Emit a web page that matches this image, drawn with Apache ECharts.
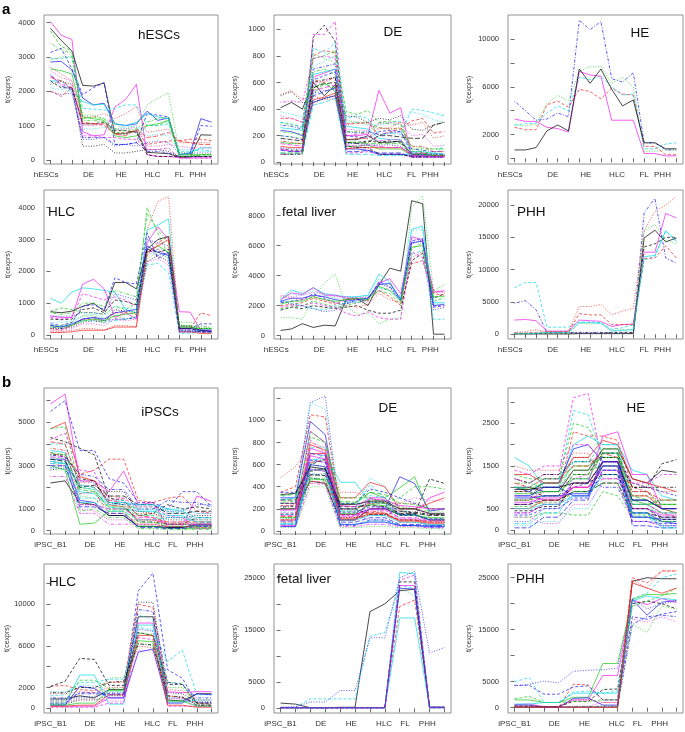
<!DOCTYPE html>
<html>
<head>
<meta charset="utf-8">
<script src="https://cdn.jsdelivr.net/npm/echarts@6/dist/echarts.min.js"></script>
<style>
  html, body { margin: 0; background: #fff; }
  #chart { width: 685px; height: 732px; }
</style>
</head>
<body>
<div id="chart"></div>
<script>
// x axis: samples per stage (a: hESC series, b: iPSC series)
const aTicks = [0, 1, 2, 3, 4, 5, 6, 7, 8, 9, 10, 11, 12, 13, 14, 15];
const aLabels = ['hESCs', 'DE', 'HE', 'HLC', 'FL', 'PHH'];
const aLabelAt = [-0.4, 3.55, 6.6, 9.5, 12, 13.7];
const bTicks = [0, 1, 2, 3, 4, 5, 6, 7, 8, 9, 10, 11];
const bLabels = ['iPSC_B1', 'DE', 'HE', 'HLC', 'FL', 'PHH'];
const bLabelAt = [0, 2.7, 4.75, 6.95, 8.35, 9.85];

// ---- a : hESCs ----
const aHescLines = [
  [4030, 3630, 3510, 820, 700, 730, 1540, 1760, 2200, 150, 100, 100, 60, 60, 60, 60],
  [3830, 3480, 3170, 2170, 2150, 2240, 760, 760, 850, 220, 200, 180, 80, 80, 730, 720],
  [2850, 2870, 2620, 1800, 1600, 1650, 1050, 1000, 1050, 1420, 1150, 1220, 150, 200, 1200, 1100],
  [3750, 3300, 3180, 1200, 1250, 1200, 800, 780, 850, 1000, 1000, 1150, 100, 100, 150, 150],
  [3130, 3250, 2650, 1900, 2100, 2250, 450, 450, 500, 1350, 1300, 1250, 150, 150, 1000, 980],
  [2300, 2300, 2000, 1700, 1600, 1620, 1050, 1000, 1100, 1350, 1250, 1200, 150, 200, 350, 350],
  [2950, 2950, 3000, 1500, 1480, 1450, 1500, 1600, 1600, 1000, 1000, 1050, 250, 250, 300, 250],
  [2000, 1850, 2100, 1050, 1050, 1000, 750, 800, 850, 450, 500, 550, 560, 600, 600, 560],
  [2500, 2150, 2050, 650, 650, 650, 450, 450, 500, 250, 250, 200, 100, 100, 100, 100],
  [2900, 3000, 3000, 1300, 1300, 1200, 1050, 900, 1000, 1600, 1800, 1950, 200, 200, 100, 100],
  [2700, 2500, 2300, 1250, 1250, 1350, 1200, 1350, 1550, 800, 850, 900, 500, 500, 500, 500],
  [2200, 2300, 2200, 400, 400, 450, 200, 200, 250, 300, 300, 250, 100, 100, 100, 100],
  [2400, 2300, 2100, 1100, 1050, 1050, 750, 700, 900, 650, 700, 800, 550, 500, 450, 450],
  [2650, 2600, 2500, 1250, 1200, 1150, 700, 650, 700, 1000, 1050, 1150, 150, 150, 150, 150],
  [2450, 2200, 2100, 700, 700, 650, 650, 600, 600, 300, 300, 350, 50, 50, 50, 50],
  [2300, 2100, 2100, 1050, 1050, 1100, 850, 850, 800, 150, 100, 100, 100, 100, 100, 100],
  [2100, 2050, 2000, 900, 900, 950, 900, 950, 1000, 700, 750, 700, 300, 300, 250, 250],
  [2600, 2400, 2300, 1000, 1000, 1050, 900, 900, 950, 400, 400, 450, 400, 350, 350, 350],
  [2000, 1900, 1950, 600, 600, 650, 400, 450, 400, 500, 550, 500, 200, 200, 200, 200],
  [3400, 3200, 3100, 1150, 1150, 1100, 900, 850, 900, 1100, 1200, 1250, 100, 100, 150, 150]
];
const aHescStyles = 'm1 k1 b1 g2 b2 c1 c2 r2 b4 g3 r3 k3 r5 g1 m2 k2 c3 m3 b3 g4'.split(' ');
const aHescTicks = [0, 1000, 2000, 3000, 4000];

// ---- a : DE ----
const aDeLines = [
  [60, 60, 70, 960, 960, 1060, 70, 70, 80, 60, 60, 60, 40, 40, 40, 40],
  [100, 90, 90, 940, 1030, 910, 150, 150, 160, 150, 160, 150, 50, 50, 50, 50],
  [410, 450, 400, 600, 500, 580, 170, 170, 200, 150, 150, 160, 60, 60, 50, 50],
  [100, 80, 80, 640, 670, 700, 200, 200, 210, 540, 370, 410, 40, 40, 40, 40],
  [330, 330, 300, 800, 840, 820, 290, 290, 300, 200, 230, 250, 310, 330, 220, 230],
  [300, 280, 270, 780, 800, 840, 380, 360, 390, 300, 310, 300, 100, 100, 100, 100],
  [300, 290, 260, 860, 820, 900, 330, 350, 330, 200, 220, 210, 400, 390, 370, 350],
  [510, 540, 470, 500, 470, 480, 280, 300, 290, 250, 260, 300, 280, 300, 180, 200],
  [240, 230, 200, 450, 480, 500, 100, 100, 90, 60, 60, 60, 50, 50, 50, 50],
  [150, 140, 140, 560, 600, 530, 120, 120, 130, 100, 100, 100, 50, 50, 50, 50],
  [260, 250, 240, 660, 680, 700, 270, 260, 250, 180, 170, 170, 80, 80, 70, 60],
  [200, 190, 170, 620, 650, 680, 200, 190, 180, 230, 240, 230, 70, 70, 60, 60],
  [120, 110, 110, 470, 490, 520, 100, 110, 110, 110, 110, 110, 60, 70, 50, 50],
  [180, 170, 160, 560, 590, 600, 150, 140, 150, 200, 200, 190, 180, 180, 280, 300],
  [380, 360, 340, 720, 760, 800, 300, 300, 280, 280, 300, 310, 380, 360, 320, 300],
  [280, 270, 250, 700, 720, 740, 230, 220, 230, 210, 220, 230, 100, 90, 80, 80],
  [200, 190, 180, 820, 780, 750, 320, 300, 300, 260, 250, 250, 120, 110, 100, 100],
  [350, 330, 300, 580, 610, 640, 250, 240, 240, 290, 300, 290, 200, 210, 120, 130],
  [500, 530, 450, 450, 480, 500, 350, 340, 300, 330, 320, 350, 250, 240, 280, 300],
  [90, 80, 80, 500, 530, 560, 80, 80, 90, 70, 70, 70, 40, 40, 40, 40],
  [70, 60, 70, 430, 450, 480, 60, 60, 60, 50, 50, 50, 70, 60, 60, 130],
  [160, 150, 140, 620, 600, 640, 170, 180, 180, 260, 250, 260, 120, 120, 80, 80],
  [230, 220, 210, 680, 700, 660, 230, 230, 220, 300, 290, 280, 80, 80, 60, 60],
  [450, 460, 450, 780, 800, 780, 200, 210, 220, 160, 170, 170, 50, 50, 50, 50],
  [60, 60, 60, 600, 620, 640, 120, 110, 110, 60, 60, 60, 40, 40, 40, 40],
  [140, 130, 120, 540, 560, 580, 130, 120, 130, 120, 110, 110, 50, 50, 40, 40],
  [70, 70, 70, 520, 590, 560, 150, 150, 140, 140, 140, 140, 60, 60, 50, 50],
  [110, 100, 100, 520, 540, 550, 140, 140, 130, 130, 130, 120, 60, 60, 60, 60]
];
const aDeStyles = 'm2 k2 k1 m1 r2 g2 c2 r3 b1 g1 c1 b2 r1 k5 c3 b4 g3 m3 k3 b5 c5 r4 g4 m4 k4 m5 g5 b3'.split(' ');
const aDeTicks = [0, 200, 400, 600, 800, 1000];

// ---- a : HE ----
const aHeLines = [
  [4800, 4000, 3200, 3300, 3800, 3500, 11600, 10800, 11500, 6700, 6400, 7200, 1300, 1300, 700, 700],
  [2800, 2700, 2900, 4600, 5300, 4800, 7300, 7700, 7700, 6300, 6800, 6000, 600, 600, 700, 700],
  [2600, 2400, 2400, 4500, 4800, 4300, 5800, 5600, 5000, 5900, 5400, 5300, 1000, 1000, 300, 300],
  [2800, 2900, 2950, 3800, 4400, 4000, 6800, 6600, 6900, 6000, 5300, 5400, 800, 800, 1200, 1300],
  [3300, 3100, 3100, 2600, 2500, 2200, 7300, 7000, 6900, 3200, 3200, 3200, 400, 400, 200, 200],
  [700, 700, 900, 2300, 2800, 2300, 7500, 6300, 7500, 5800, 4400, 4900, 1300, 1300, 800, 800]
];
const aHeStyles = 'b4 g3 r2 c2 m1 k1'.split(' ');
const aHeTicks = [0, 2000, 4000, 6000, 8000, 10000];
const aHeLabels = [0, 2000, 6000, 10000];

// ---- a : HLC ----
const aHlcLines = [
  [100, 100, 150, 200, 200, 150, 300, 300, 250, 3300, 4200, 4350, 150, 150, 100, 100],
  [750, 850, 800, 700, 700, 650, 900, 800, 1000, 4000, 3200, 2500, 200, 200, 200, 200],
  [1150, 1000, 1350, 1480, 1450, 1400, 1350, 800, 700, 3300, 3450, 3650, 100, 100, 150, 150],
  [600, 550, 550, 1600, 1750, 1450, 550, 700, 500, 2900, 3400, 3000, 730, 720, 150, 150],
  [730, 700, 750, 900, 1000, 750, 1650, 1650, 1450, 2700, 3000, 3100, 250, 250, 150, 100],
  [350, 300, 400, 900, 950, 800, 1800, 1650, 1600, 3200, 2400, 2600, 200, 200, 350, 350],
  [200, 150, 300, 500, 500, 450, 700, 700, 650, 2500, 2900, 3100, 200, 200, 700, 600],
  [300, 250, 350, 450, 450, 400, 450, 500, 550, 2200, 2250, 1950, 50, 50, 100, 100],
  [300, 300, 400, 600, 600, 500, 600, 500, 600, 2400, 2600, 2400, 400, 400, 300, 200],
  [250, 200, 300, 500, 550, 450, 500, 500, 550, 2700, 2500, 2600, 150, 150, 100, 100],
  [550, 500, 550, 1300, 1200, 1100, 1200, 1100, 900, 2600, 2700, 2500, 100, 100, 100, 100],
  [200, 200, 250, 400, 450, 400, 800, 750, 700, 2300, 2500, 2300, 300, 300, 200, 200],
  [250, 250, 300, 450, 500, 450, 600, 650, 700, 2600, 2800, 2600, 250, 250, 200, 200],
  [300, 250, 350, 500, 550, 500, 700, 750, 800, 2800, 2600, 2500, 200, 200, 150, 150],
  [80, 80, 100, 150, 150, 150, 250, 250, 250, 2600, 2800, 3000, 100, 100, 50, 50],
  [150, 150, 200, 350, 350, 300, 500, 450, 500, 2300, 2400, 2200, 150, 150, 100, 100],
  [400, 400, 450, 600, 650, 550, 900, 850, 800, 2500, 2700, 2400, 150, 150, 100, 100],
  [500, 480, 500, 800, 850, 700, 1100, 1050, 950, 2700, 2600, 2700, 200, 200, 100, 100],
  [600, 580, 600, 700, 700, 650, 1300, 1200, 1100, 3000, 2900, 2800, 100, 100, 100, 100],
  [700, 650, 700, 1000, 1000, 900, 1400, 1300, 1200, 3800, 3300, 2900, 300, 300, 250, 250]
];
const aHlcStyles = 'r3 g2 c1 m1 k1 b2 r2 c2 g3 b4 m2 k3 g1 b1 r1 m3 c3 k2 b3 g4'.split(' ');
const aHlcTicks = [0, 1000, 2000, 3000, 4000];

// ---- a : fetal liver ----
const aFlLines = [
  [350, 450, 800, 550, 700, 650, 2400, 2500, 2000, 3400, 4500, 4300, 9000, 8800, 100, 100],
  [1200, 1200, 1100, 2500, 3500, 4100, 2000, 1400, 1500, 800, 1100, 1200, 8600, 9300, 3000, 3400],
  [2400, 3050, 2800, 3200, 2800, 2700, 2600, 2600, 2700, 4100, 3600, 2400, 7100, 7300, 2200, 2200],
  [2400, 2850, 2750, 3200, 2700, 2700, 2500, 2500, 2500, 3500, 3800, 2800, 6600, 6400, 2900, 3000],
  [2700, 2600, 2700, 2900, 2800, 2600, 2600, 2500, 2600, 3000, 3200, 2600, 6500, 6300, 2900, 2900],
  [2200, 2300, 2400, 2800, 2500, 2200, 2100, 2400, 2400, 3600, 3300, 2300, 6300, 6500, 1900, 2000],
  [2000, 2100, 2200, 2500, 2300, 2100, 2500, 2400, 2300, 3000, 2600, 2000, 4800, 5000, 2800, 2700],
  [1700, 1900, 1800, 2000, 1900, 1800, 1900, 2000, 1700, 1500, 1500, 1700, 5000, 5500, 2500, 2800],
  [2300, 2200, 2000, 1800, 1700, 2000, 2200, 2300, 2600, 3200, 3000, 2500, 5400, 5700, 1100, 1100],
  [1800, 1900, 2000, 2300, 2100, 1900, 2000, 2200, 2400, 3000, 2800, 2100, 5800, 6200, 2300, 2500],
  [1900, 2000, 2000, 2200, 2000, 1900, 1500, 1300, 1600, 1200, 1100, 1100, 5600, 5200, 2000, 2000],
  [2300, 2100, 2000, 1800, 1600, 1700, 2200, 2200, 2400, 3500, 3200, 2300, 6100, 6400, 1700, 1900],
  [2600, 2500, 2400, 2600, 2400, 2200, 2000, 1900, 2100, 2800, 2400, 2200, 5200, 5600, 3000, 2900],
  [2300, 2500, 2500, 2700, 2600, 2400, 2300, 2400, 2500, 3400, 3500, 2400, 6200, 6300, 2000, 2100],
  [2500, 2800, 2700, 3000, 2700, 2500, 2500, 2600, 2700, 3800, 3400, 2300, 7000, 7100, 2100, 2100],
  [2100, 2300, 2300, 2600, 2400, 2300, 2400, 2500, 2400, 3300, 3000, 2300, 5900, 6000, 2600, 2600]
];
const aFlStyles = 'k1 g3 c1 m1 m3 b2 r2 k2 c2 g2 m2 b3 r3 b1 c3 g1'.split(' ');
const aFlTicks = [0, 2000, 4000, 6000, 8000];

// ---- a : PHH ----
const aPhhLines = [
  [7200, 8000, 8000, 1100, 1100, 1100, 1900, 1900, 1800, 800, 1000, 1500, 11500, 12000, 16000, 14500],
  [4800, 5200, 3800, 300, 300, 300, 300, 300, 300, 200, 200, 200, 18800, 21000, 11800, 11000],
  [2200, 2300, 2100, 500, 500, 500, 2200, 2100, 2000, 1200, 1500, 1600, 12700, 12700, 18700, 18000],
  [50, 50, 50, 50, 50, 50, 100, 100, 100, 100, 100, 100, 14900, 16100, 14300, 14900],
  [100, 100, 100, 200, 200, 200, 200, 200, 200, 300, 300, 300, 13500, 14000, 15000, 15000],
  [200, 200, 300, 400, 400, 400, 3200, 3000, 3000, 1500, 1500, 1500, 11700, 11800, 13700, 11800],
  [300, 400, 700, 400, 400, 400, 4300, 4300, 4600, 3000, 3600, 4000, 16000, 19000, 20000, 21300],
  [100, 100, 150, 200, 200, 200, 1700, 1600, 1700, 600, 700, 800, 16000, 17000, 14500, 14000],
  [150, 150, 150, 300, 300, 300, 1800, 1800, 1700, 500, 600, 700, 12000, 12200, 16000, 14300]
];
const aPhhStyles = 'c2 b4 m1 k1 k2 r2 r3 g3 c1'.split(' ');
const aPhhTicks = [0, 5000, 10000, 15000, 20000];

// ---- b : iPSCs ----
const bIpscLines = [
  [5850, 6300, 2300, 2300, 1800, 2750, 1200, 1300, 200, 200, 1600, 1350],
  [5500, 6000, 3700, 3700, 2400, 2200, 1300, 1300, 1000, 1800, 1800, 1100],
  [4700, 5000, 2500, 2300, 1200, 1100, 500, 500, 300, 300, 300, 300],
  [4700, 4800, 2000, 1900, 1000, 1000, 700, 700, 300, 300, 200, 200],
  [4300, 4100, 3800, 3500, 1500, 1400, 700, 800, 1200, 1000, 1100, 1000],
  [3600, 3400, 2600, 2800, 3300, 3300, 1400, 1300, 1500, 1600, 900, 800],
  [3300, 3300, 1400, 1300, 700, 700, 200, 200, 150, 150, 300, 300],
  [2200, 2300, 1300, 1200, 700, 700, 200, 200, 150, 150, 250, 250],
  [3000, 2800, 300, 350, 900, 900, 200, 200, 100, 100, 100, 100],
  [3700, 3600, 1800, 1700, 1100, 1000, 900, 900, 700, 700, 400, 400],
  [4000, 4000, 2000, 1900, 1200, 1300, 1000, 1000, 900, 800, 500, 500],
  [4200, 4500, 2800, 2700, 1400, 1500, 1100, 1100, 700, 600, 200, 200],
  [2900, 3000, 2300, 2200, 1300, 1200, 1200, 1200, 900, 900, 1200, 1200],
  [3200, 3100, 1000, 900, 500, 500, 500, 500, 400, 400, 800, 800],
  [2800, 2900, 1200, 1200, 1800, 1800, 900, 800, 600, 600, 700, 700],
  [3100, 3000, 2200, 2300, 1600, 1500, 800, 800, 500, 500, 500, 500],
  [3400, 3300, 1600, 1500, 1000, 1000, 1100, 1100, 300, 300, 300, 300],
  [3500, 3400, 2600, 2500, 1900, 1900, 1000, 1000, 1400, 1300, 1300, 1100],
  [3300, 3200, 1500, 1500, 1400, 1400, 900, 900, 1000, 1000, 800, 800],
  [2500, 2500, 800, 800, 300, 300, 300, 300, 200, 200, 100, 100],
  [3800, 3700, 1700, 1800, 800, 800, 300, 300, 200, 200, 150, 150],
  [3200, 3100, 900, 1000, 600, 600, 100, 100, 50, 50, 50, 50],
  [3500, 3500, 2400, 2300, 1300, 1200, 400, 400, 300, 300, 600, 600],
  [3000, 3000, 1100, 1100, 800, 800, 150, 150, 100, 100, 200, 200],
  [3100, 3100, 1300, 1300, 900, 900, 500, 500, 600, 600, 400, 400],
  [2900, 2800, 1700, 1800, 1200, 1200, 700, 700, 500, 500, 250, 250],
  [4100, 4000, 2100, 2000, 1400, 1300, 700, 600, 400, 400, 400, 400],
  [3600, 3500, 1900, 1800, 1100, 1100, 400, 400, 200, 200, 150, 150],
  [3400, 3400, 1200, 1200, 1000, 1000, 600, 600, 300, 300, 300, 300],
  [3300, 3200, 2000, 2100, 1600, 1600, 1200, 1200, 800, 800, 900, 900],
  [3200, 3100, 2100, 2000, 1300, 1300, 1200, 1200, 1000, 900, 600, 600]
];
const bIpscStyles = 'm1 b2 r1 g2 k2 r2 b1 k1 g1 c1 c2 m2 b3 m3 k3 r3 g3 b4 c4 m4 r4 g4 k4 b5 c5 c3 r5 g5 m5 k5 c1'.split(' ');
const bIpscTicks = [0, 1000, 2000, 3000, 4000, 5000, 6000];
const bIpscLabels = [0, 1000, 3000, 5000];

// ---- b : DE ----
const bDeLines = [
  [200, 250, 1160, 1220, 150, 150, 100, 100, 50, 50, 50, 50],
  [300, 350, 1160, 1100, 200, 200, 480, 400, 200, 150, 100, 100],
  [350, 400, 1050, 1030, 200, 200, 250, 250, 150, 150, 100, 100],
  [300, 300, 990, 870, 150, 150, 200, 200, 490, 430, 180, 200],
  [280, 300, 600, 700, 440, 440, 260, 250, 150, 150, 100, 100],
  [200, 200, 900, 800, 250, 250, 350, 300, 390, 490, 150, 150],
  [150, 150, 600, 650, 200, 200, 150, 150, 180, 160, 470, 430],
  [250, 250, 700, 700, 300, 300, 440, 400, 200, 200, 250, 300],
  [480, 580, 800, 750, 350, 350, 300, 250, 250, 250, 200, 200],
  [50, 50, 750, 700, 100, 100, 300, 300, 150, 150, 300, 350],
  [100, 100, 820, 700, 150, 150, 250, 200, 200, 200, 150, 150],
  [250, 250, 850, 800, 300, 300, 300, 250, 300, 400, 400, 380],
  [200, 200, 450, 430, 100, 100, 200, 200, 150, 150, 100, 100],
  [350, 350, 550, 560, 250, 250, 380, 350, 300, 250, 200, 200],
  [150, 150, 520, 500, 200, 200, 420, 300, 100, 100, 50, 50],
  [100, 120, 580, 550, 150, 150, 250, 250, 200, 200, 180, 180],
  [60, 60, 480, 460, 50, 50, 100, 100, 50, 50, 30, 30],
  [120, 120, 500, 520, 120, 120, 150, 150, 100, 100, 80, 80],
  [180, 200, 650, 620, 200, 180, 200, 180, 250, 300, 280, 270],
  [80, 80, 560, 540, 120, 120, 180, 170, 80, 80, 60, 60],
  [260, 270, 600, 580, 180, 180, 280, 280, 220, 200, 120, 110],
  [170, 170, 750, 760, 180, 180, 320, 300, 150, 150, 100, 100],
  [40, 40, 430, 420, 40, 40, 60, 60, 40, 40, 30, 30],
  [220, 220, 540, 560, 200, 200, 260, 260, 180, 170, 150, 150],
  [130, 130, 620, 640, 100, 100, 150, 140, 100, 100, 80, 80],
  [90, 90, 700, 680, 80, 80, 120, 120, 60, 60, 50, 50],
  [60, 60, 650, 640, 60, 60, 90, 90, 50, 50, 40, 40],
  [320, 330, 480, 470, 270, 260, 350, 330, 250, 240, 200, 200],
  [140, 140, 900, 800, 130, 130, 200, 200, 120, 120, 100, 100],
  [280, 280, 510, 500, 220, 220, 230, 220, 160, 160, 140, 140],
  [230, 230, 450, 440, 150, 150, 170, 160, 100, 100, 90, 90],
  [40, 40, 600, 580, 60, 60, 80, 80, 50, 50, 40, 40],
  [120, 120, 470, 460, 160, 160, 240, 230, 140, 140, 120, 120],
  [70, 70, 560, 540, 100, 100, 140, 140, 80, 80, 60, 60],
  [190, 190, 680, 650, 230, 220, 290, 280, 230, 220, 200, 200],
  [330, 340, 580, 560, 240, 240, 270, 270, 200, 200, 160, 160],
  [100, 100, 780, 730, 110, 110, 160, 160, 90, 90, 70, 70],
  [250, 250, 640, 620, 170, 170, 220, 210, 140, 140, 110, 110],
  [30, 30, 400, 400, 30, 30, 40, 40, 30, 30, 20, 20],
  [160, 160, 560, 540, 140, 140, 190, 190, 110, 110, 90, 90]
];
const bDeStyles = 'b3 c3 r2 b1 c1 g1 k2 r1 r3 m1 m2 g2 k1 b2 c2 g3 b4 k3 m3 r4 g4 c4 m4 k4 r5 b5 c5 g5 m5 k5 r2 b1 g1 c1 m1 k1 r1 b2 g3 m2'.split(' ');
const bDeTicks = [0, 200, 400, 600, 800, 1000, 1200];
const bDeLabels = [0, 200, 400, 600, 800, 1000];

// ---- b : HE ----
const bHeLines = [
  [1200, 1100, 1300, 1300, 3100, 3200, 1500, 1500, 600, 600, 400, 400],
  [900, 900, 1100, 1100, 2800, 2700, 1700, 1700, 500, 500, 300, 300],
  [1300, 1200, 1200, 1200, 2500, 2400, 1800, 1800, 800, 800, 600, 600],
  [700, 700, 900, 900, 2300, 2200, 2200, 2100, 1000, 900, 500, 500],
  [1700, 1500, 1000, 1000, 2000, 2200, 2000, 2000, 1400, 1300, 800, 700],
  [1000, 900, 1100, 1100, 1900, 2000, 1600, 1600, 400, 400, 200, 150],
  [900, 900, 800, 800, 1300, 1300, 1800, 1800, 1000, 1000, 1550, 1650],
  [1000, 1000, 900, 900, 1400, 1400, 1900, 1900, 1200, 1100, 1400, 1350],
  [300, 300, 400, 400, 350, 350, 900, 800, 300, 300, 200, 200],
  [800, 800, 700, 700, 1100, 1100, 2200, 2300, 1300, 1300, 500, 500],
  [600, 600, 800, 800, 1000, 1100, 1600, 1600, 1100, 1000, 900, 800],
  [500, 500, 700, 700, 1000, 1000, 1500, 1500, 800, 800, 500, 400],
  [1000, 950, 1100, 1100, 1500, 1500, 1700, 1700, 700, 600, 700, 700],
  [100, 100, 200, 200, 500, 500, 1200, 1200, 600, 600, 300, 300],
  [300, 300, 150, 150, 600, 600, 1100, 1100, 200, 200, 100, 100],
  [200, 200, 500, 500, 800, 800, 1300, 1300, 400, 400, 100, 100],
  [700, 700, 1200, 1200, 1700, 1700, 1400, 1400, 900, 900, 600, 600],
  [1500, 1400, 1400, 1400, 1800, 1800, 1200, 1200, 1100, 1000, 900, 900],
  [400, 400, 600, 600, 1200, 1200, 1000, 1000, 300, 300, 200, 200],
  [800, 800, 900, 900, 1600, 1600, 1400, 1400, 700, 700, 500, 500],
  [1100, 1100, 1000, 1000, 1400, 1400, 1500, 1500, 500, 500, 400, 400],
  [600, 600, 1000, 1000, 1200, 1300, 1300, 1300, 200, 200, 100, 100],
  [1200, 1100, 1300, 1300, 1600, 1600, 1700, 1700, 1000, 1000, 1000, 1000],
  [900, 900, 600, 600, 900, 900, 1600, 1600, 600, 600, 400, 300],
  [50, 50, 300, 300, 700, 700, 1800, 1800, 100, 100, 50, 50],
  [150, 150, 400, 400, 900, 900, 1500, 1500, 300, 300, 100, 100],
  [700, 700, 800, 800, 1300, 1300, 1900, 1900, 800, 700, 500, 400],
  [400, 400, 600, 600, 1000, 1000, 1200, 1200, 500, 500, 300, 300],
  [600, 600, 700, 700, 900, 900, 1100, 1100, 400, 400, 300, 300],
  [1100, 1000, 1200, 1200, 1500, 1500, 1800, 1700, 900, 900, 700, 700],
  [750, 750, 800, 800, 850, 850, 1500, 1500, 300, 300, 250, 250],
  [500, 500, 600, 600, 800, 800, 1300, 1300, 400, 400, 50, 50],
  [850, 850, 900, 900, 1200, 1200, 1800, 1800, 600, 600, 600, 600],
  [650, 650, 750, 750, 1000, 1000, 1400, 1400, 500, 500, 350, 350],
  [950, 950, 1000, 1000, 1100, 1100, 1600, 1600, 700, 700, 500, 500],
  [1300, 1300, 1100, 1100, 1700, 1700, 2100, 2000, 1200, 1100, 1000, 900],
  [350, 350, 500, 500, 750, 750, 1400, 1400, 200, 200, 150, 150],
  [1000, 1000, 1200, 1200, 1600, 1600, 2000, 2000, 600, 600, 400, 400],
  [550, 550, 650, 650, 900, 900, 1100, 1100, 350, 350, 200, 200],
  [1400, 1300, 1500, 1500, 2000, 2000, 1600, 1600, 1100, 1100, 1300, 1300],
  [800, 800, 1000, 1000, 800, 800, 1600, 1600, 700, 700, 500, 500],
  [450, 450, 550, 550, 1100, 1100, 1300, 1300, 500, 500, 250, 250]
];
const bHeStyles = 'm2 c2 g2 r2 c1 b1 k2 k1 g2 m1 b2 r1 g1 c3 m3 b3 k3 r3 b4 c4 g4 m4 k4 r4 b5 c5 g5 m5 k5 r5 b1 c1 g1 m1 k1 r1 b2 c2 g2 m2 b1 k2'.split(' ');
const bHeTicks = [0, 500, 1000, 1500, 2000, 2500, 3000];
const bHeLabels = [0, 500, 1500, 2500];

// ---- b : HLC ----
const bHlcLines = [
  [500, 500, 1500, 1500, 1400, 1400, 11300, 13000, 3700, 2900, 500, 500],
  [400, 400, 800, 800, 1200, 1200, 10200, 10200, 1500, 1400, 600, 600],
  [2100, 2200, 1800, 1700, 2500, 2500, 10000, 9700, 1200, 1000, 500, 400],
  [900, 900, 1200, 1000, 1800, 1800, 8800, 8800, 800, 700, 1400, 1400],
  [200, 200, 200, 200, 1000, 1000, 8200, 8200, 1600, 1500, 1600, 1600],
  [400, 400, 3200, 3200, 400, 400, 8000, 8000, 600, 600, 800, 800],
  [1200, 1300, 2500, 2500, 2800, 2800, 7800, 7500, 4500, 5600, 1300, 1300],
  [2100, 2600, 4800, 4700, 2200, 2200, 7300, 7000, 2300, 2300, 500, 500],
  [300, 300, 2100, 1900, 1000, 1000, 5400, 5700, 500, 500, 1400, 1300],
  [700, 700, 2700, 2700, 1900, 1800, 7200, 7100, 2500, 2400, 300, 300],
  [500, 500, 1000, 1000, 2900, 3000, 6200, 6000, 2000, 2000, 400, 400],
  [1400, 1400, 1600, 1500, 2000, 2000, 6000, 5800, 1800, 1700, 800, 800],
  [100, 100, 100, 100, 500, 500, 6800, 6600, 200, 200, 200, 200],
  [800, 800, 1100, 1100, 1500, 1500, 7600, 7400, 1000, 1000, 600, 600],
  [300, 300, 500, 500, 1700, 1700, 6500, 6400, 700, 700, 200, 200],
  [1600, 1600, 2200, 2200, 1600, 1600, 9000, 8500, 1000, 900, 200, 200],
  [200, 200, 300, 300, 1300, 1300, 7000, 7000, 300, 300, 100, 100],
  [600, 600, 900, 900, 700, 700, 5600, 5500, 900, 900, 300, 300],
  [1000, 1000, 1400, 1400, 1300, 1300, 9500, 9300, 2500, 2300, 1000, 1000],
  [1500, 1500, 2000, 2000, 2500, 2600, 6200, 6100, 1200, 1100, 300, 300]
];
const bHlcStyles = 'b2 k3 r2 k1 m1 c1 c2 k2 b1 g2 g3 r3 m2 b3 g1 c3 r1 m3 b4 k4'.split(' ');
const bHlcTicks = [0, 2000, 4000, 6000, 8000, 10000, 12000];
const bHlcLabels = [0, 2000, 6000, 10000];

// ---- b : fetal liver ----
const bFlLines = [
  [1000, 800, 100, 100, 200, 200, 18500, 20000, 22500, 22800, 200, 200],
  [100, 100, 100, 100, 100, 100, 100, 100, 26000, 25800, 100, 100],
  [200, 200, 1800, 1800, 1800, 1800, 13800, 14500, 23500, 23000, 200, 200],
  [200, 300, 1200, 1200, 3400, 3400, 13500, 13500, 25000, 26200, 10600, 11600],
  [100, 100, 100, 100, 100, 100, 100, 100, 23500, 23500, 200, 200],
  [100, 100, 100, 100, 100, 100, 100, 100, 19500, 20700, 100, 100],
  [100, 100, 100, 100, 100, 100, 100, 100, 17300, 17300, 100, 100],
  [100, 100, 100, 100, 100, 100, 100, 100, 24200, 24200, 200, 200],
  [100, 100, 100, 100, 100, 100, 100, 100, 23000, 21500, 100, 100],
  [100, 100, 100, 100, 100, 100, 100, 100, 23000, 22800, 200, 200],
  [100, 100, 100, 100, 100, 100, 100, 100, 24500, 25500, 100, 100]
];
const bFlStyles = 'k1 c1 c2 b3 m1 r2 c1 k2 g3 b1 m2'.split(' ');
const bFlTicks = [0, 5000, 10000, 15000, 20000, 25000];
const bFlLabels = [0, 5000, 15000, 25000];

// ---- b : PHH ----
const bPhhLines = [
  [100, 100, 100, 100, 100, 100, 100, 100, 24300, 25000, 24800, 24800],
  [200, 200, 100, 100, 4500, 4400, 1500, 1500, 25000, 24000, 26300, 26300],
  [5000, 5800, 1000, 1000, 3000, 3200, 2800, 3200, 21000, 22000, 25000, 25700],
  [4200, 4500, 5100, 4800, 7000, 7200, 7300, 7600, 21000, 19000, 20000, 20500],
  [1500, 1500, 1000, 1000, 2000, 2000, 8500, 8500, 20800, 21800, 21700, 22000],
  [600, 700, 200, 200, 1500, 1500, 6200, 6200, 20700, 19800, 21000, 20200],
  [500, 500, 100, 100, 1800, 1900, 500, 500, 20800, 17800, 20300, 20600],
  [4300, 4300, 2600, 2600, 4000, 4200, 1500, 1500, 17500, 17000, 18000, 18500],
  [300, 300, 200, 200, 1200, 1200, 3500, 3600, 20000, 20500, 20000, 19000],
  [1700, 2200, 1000, 1000, 1200, 1200, 1500, 1500, 19500, 20500, 21500, 23000],
  [200, 200, 100, 100, 300, 300, 1000, 1000, 17000, 16500, 17500, 16500],
  [700, 700, 1000, 1000, 2800, 2800, 2800, 2800, 20500, 21500, 21000, 20800],
  [300, 300, 200, 200, 1500, 1500, 1000, 1000, 24500, 23000, 26300, 26300],
  [100, 100, 100, 100, 200, 200, 300, 300, 16000, 17500, 17800, 17500],
  [100, 100, 100, 100, 200, 200, 300, 300, 16000, 14500, 19500, 19000],
  [100, 100, 100, 100, 100, 100, 100, 100, 24000, 23000, 22000, 23000]
];
const bPhhStyles = 'k1 r2 c2 b3 g1 m1 b1 b2 k2 g2 m3 c1 r3 b4 g3 r1'.split(' ');
const bPhhTicks = [0, 5000, 10000, 15000, 20000, 25000];
const bPhhLabels = [0, 5000, 15000, 25000];

// ---------- layout ----------
const cols = [{ left: 44, width: 174 }, { left: 274, width: 177 }, { left: 508, width: 175 }];
const rows = [{ top: 15, height: 149 }, { top: 190, height: 149 }, { top: 388, height: 146 }, { top: 564, height: 149 }];
const nameGaps = [32, 35, 35];

const panels = [
  { title: 'hESCs', sect: 'a', row: 0, col: 0, lines: aHescLines, styles: aHescStyles, yMin: -120, yMax: 4220, ticks: aHescTicks, labels: aHescTicks, tx: 159, ty: 35, ta: 'center' },
  { title: 'DE', sect: 'a', row: 0, col: 1, lines: aDeLines, styles: aDeStyles, yMin: -13, yMax: 1107, ticks: aDeTicks, labels: aDeTicks, tx: 393, ty: 32, ta: 'center' },
  { title: 'HE', sect: 'a', row: 0, col: 2, lines: aHeLines, styles: aHeStyles, yMin: -480, yMax: 12040, ticks: aHeTicks, labels: aHeLabels, tx: 640, ty: 33, ta: 'center' },
  { title: 'HLC', sect: 'a', row: 1, col: 0, lines: aHlcLines, styles: aHlcStyles, yMin: -126, yMax: 4557, ticks: aHlcTicks, labels: aHlcTicks, tx: 48, ty: 212, ta: 'left' },
  { title: 'fetal liver', sect: 'a', row: 1, col: 1, lines: aFlLines, styles: aFlStyles, yMin: -220, yMax: 9713, ticks: aFlTicks, labels: aFlTicks, tx: 282, ty: 212, ta: 'left' },
  { title: 'PHH', sect: 'a', row: 1, col: 2, lines: aPhhLines, styles: aPhhStyles, yMin: -727, yMax: 22320, ticks: aPhhTicks, labels: aPhhTicks, tx: 517, ty: 212, ta: 'left' },
  { title: 'iPSCs', sect: 'b', row: 2, col: 0, lines: bIpscLines, styles: bIpscStyles, yMin: -152, yMax: 6582, ticks: bIpscTicks, labels: bIpscLabels, tx: 160, ty: 412, ta: 'center' },
  { title: 'DE', sect: 'b', row: 2, col: 1, lines: bDeLines, styles: bDeStyles, yMin: -27, yMax: 1292, ticks: bDeTicks, labels: bDeLabels, tx: 388, ty: 408, ta: 'center' },
  { title: 'HE', sect: 'b', row: 2, col: 2, lines: bHeLines, styles: bHeStyles, yMin: -94, yMax: 3327, ticks: bHeTicks, labels: bHeLabels, tx: 636, ty: 408, ta: 'center' },
  { title: 'HLC', sect: 'b', row: 3, col: 0, lines: bHlcLines, styles: bHlcStyles, yMin: -452, yMax: 13875, ticks: bHlcTicks, labels: bHlcLabels, tx: 49, ty: 582, ta: 'left' },
  { title: 'fetal liver', sect: 'b', row: 3, col: 1, lines: bFlLines, styles: bFlStyles, yMin: -900, yMax: 27622, ticks: bFlTicks, labels: bFlLabels, tx: 277, ty: 579, ta: 'left' },
  { title: 'PHH', sect: 'b', row: 3, col: 2, lines: bPhhLines, styles: bPhhStyles, yMin: -1019, yMax: 27635, ticks: bPhhTicks, labels: bPhhLabels, tx: 516, ty: 579, ta: 'left' }
];

// matplot-like colours and line types
const palette = { k: '#000000', r: '#F22020', g: '#1FC81F', b: '#1A1AF0', c: '#10D8E8', m: '#F020F0' };
const dashes = { 1: 'solid', 2: [3, 2], 3: [1, 1.6], 4: [1, 1.6, 3, 1.6], 5: [5, 2] };
const FONT = 'Liberation Sans, Arial, Helvetica, sans-serif';

const grid = [], xAxis = [], yAxis = [], series = [], graphic = [];

panels.forEach((p, i) => {
  const isA = p.sect === 'a';
  const ticksX = isA ? aTicks : bTicks;
  const labAt = isA ? aLabelAt : bLabelAt;
  const labTx = isA ? aLabels : bLabels;
  const xMax = ticksX.length - 1;
  const pad = xMax * 0.04;

  grid.push({
    left: cols[p.col].left, width: cols[p.col].width,
    top: rows[p.row].top, height: rows[p.row].height,
    show: true, borderColor: '#7a7a7a', borderWidth: 0.8, backgroundColor: 'transparent'
  });

  xAxis.push({
    gridIndex: i, type: 'value', min: -pad, max: xMax + pad,
    splitLine: { show: false },
    axisLine: { show: false },
    axisTick: { show: true, customValues: ticksX, length: 4, lineStyle: { color: '#444', width: 0.8 } },
    axisLabel: {
      show: true, customValues: labAt, margin: 7,
      formatter: v => labTx[labAt.indexOf(v)] || '',
      fontSize: 8, color: '#333', fontFamily: FONT
    }
  });

  yAxis.push({
    gridIndex: i, type: 'value', min: p.yMin, max: p.yMax,
    splitLine: { show: false },
    axisLine: { show: false },
    axisTick: { show: true, customValues: p.ticks, length: 4, lineStyle: { color: '#444', width: 0.8 } },
    axisLabel: {
      show: true, customValues: p.labels, margin: 9,
      formatter: v => String(v),
      fontSize: 7.5, color: '#333', fontFamily: FONT
    },
    name: 't(cexprs)', nameLocation: 'middle', nameRotate: 90, nameGap: nameGaps[p.col],
    nameTextStyle: { fontSize: 7, color: '#333', fontFamily: FONT }
  });

  p.lines.forEach((vals, j) => {
    const code = p.styles[j];
    series.push({
      type: 'line', xAxisIndex: i, yAxisIndex: i,
      data: vals.map((v, k) => [k, v]),
      symbol: 'none', silent: true,
      lineStyle: { color: palette[code[0]], width: 0.8, type: dashes[code[1]], opacity: 0.9 }
    });
  });

  graphic.push({
    type: 'text', x: p.tx, y: p.ty,
    style: { text: p.title, font: '13.5px ' + FONT, fill: '#111', align: p.ta, textAlign: p.ta, verticalAlign: 'middle', textVerticalAlign: 'middle' }
  });
});

graphic.push({ type: 'text', x: 2, y: 10, style: { text: 'a', font: 'bold 15px ' + FONT, fill: '#000', verticalAlign: 'middle', textVerticalAlign: 'middle' } });
graphic.push({ type: 'text', x: 2, y: 383, style: { text: 'b', font: 'bold 15px ' + FONT, fill: '#000', verticalAlign: 'middle', textVerticalAlign: 'middle' } });

const chart = echarts.init(document.getElementById('chart'), null, { renderer: 'canvas' });
chart.setOption({
  animation: false,
  backgroundColor: '#fff',
  grid, xAxis, yAxis, series, graphic
});
</script>
</body>
</html>
